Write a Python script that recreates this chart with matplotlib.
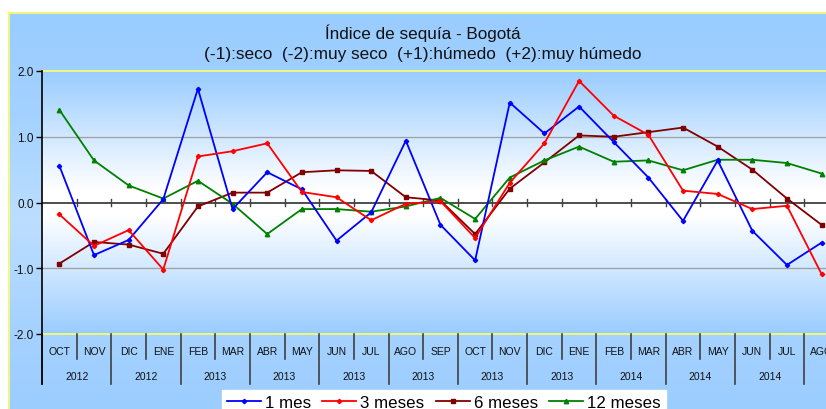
import numpy as np
import matplotlib
matplotlib.use("Agg")
import matplotlib.pyplot as plt
from matplotlib.colors import LinearSegmentedColormap
import matplotlib.transforms as mtransforms

plt.rcParams['font.family'] = ['Liberation Sans', 'DejaVu Sans']

months = ["OCT", "NOV", "DIC", "ENE", "FEB", "MAR", "ABR", "MAY", "JUN", "JUL", "AGO", "SEP",
          "OCT", "NOV", "DIC", "ENE", "FEB", "MAR", "ABR", "MAY", "JUN", "JUL", "AGO"]
years = ["2012", "2012", "2013", "2013", "2013", "2013", "2013", "2013", "2014", "2014", "2014", "2014"]

mes1 = [0.56, -0.80, -0.57, 0.05, 1.73, -0.10, 0.46, 0.20, -0.58, -0.15, 0.94, -0.34,
        -0.88, 1.52, 1.05, 1.46, 0.92, 0.38, -0.28, 0.64, -0.43, -0.95, -0.61]
mes3 = [-0.18, -0.66, -0.42, -1.02, 0.70, 0.78, 0.90, 0.16, 0.08, -0.27, -0.02, 0.02,
        -0.54, 0.30, 0.90, 1.85, 1.32, 1.03, 0.18, 0.13, -0.10, -0.05, -1.09]
mes6 = [-0.93, -0.60, -0.64, -0.78, -0.06, 0.15, 0.15, 0.46, 0.49, 0.48, 0.08, 0.03,
        -0.48, 0.21, 0.61, 1.02, 1.00, 1.07, 1.14, 0.85, 0.50, 0.06, -0.34]
mes12 = [1.41, 0.64, 0.26, 0.06, 0.33, -0.02, -0.48, -0.10, -0.10, -0.14, -0.06, 0.07,
         -0.25, 0.38, 0.64, 0.85, 0.62, 0.64, 0.49, 0.65, 0.65, 0.60, 0.44]

W, H = 826, 410
fig = plt.figure(figsize=(W / 100, H / 100), dpi=100)

# background (chart area)
bg = fig.add_axes([0, 0, 1, 1], zorder=0)
bg.set_xlim(0, W)
bg.set_ylim(H, 0)
bg.axis('off')
cmap_out = LinearSegmentedColormap.from_list('o', ['#99ccff', '#a4d2ff', '#bcdeff', '#a6d2ff', '#99ccff'])
grad = np.linspace(0, 1, 256).reshape(-1, 1)
bg.imshow(grad, cmap=cmap_out, aspect='auto', extent=(8, 900, 430, 13), zorder=0)
bg.plot([8, 900], [13.5, 13.5], color='#ffff66', lw=1.2, zorder=1)
bg.plot([8.5, 8.5], [13, 430], color='#ffff66', lw=1.2, zorder=1)

# titles
fig.text(423 / W, 1 - 33 / H, "Índice de sequía - Bogotá", ha='center', va='center', fontsize=12.3, color='#111111')
fig.text(423 / W, 1 - 54 / H, "(-1):seco  (-2):muy seco  (+1):húmedo  (+2):muy húmedo",
         ha='center', va='center', fontsize=12.4, color='#111111')

n = len(months)
left, right = 42, 42 + 34.65 * n
top, bottom = 72, 335
ax = fig.add_axes([left / W, 1 - bottom / H, (right - left) / W, (bottom - top) / H], zorder=2)
ax.set_xlim(-0.5, n - 0.5)
ax.set_ylim(-2, 2)
ax.patch.set_alpha(0)
cmap_in = LinearSegmentedColormap.from_list('i', [(0, '#99ccff'), (0.45, '#ffffff'), (0.55, '#ffffff'), (1, '#99ccff')])
ax.imshow(np.linspace(0, 1, 256).reshape(-1, 1), cmap=cmap_in, aspect='auto',
          extent=(-0.5, n - 0.5, -2, 2), zorder=0)

for s in ['top', 'right', 'bottom']:
    ax.spines[s].set_visible(False)
ax.spines['left'].set_color('#000000')
ax.spines['left'].set_linewidth(1.2)
ax.plot([-0.5, n - 0.5], [2, 2], color='#ffff66', lw=1.2, zorder=1, clip_on=False)
ax.plot([-0.5, n - 0.5], [-2, -2], color='#ffff66', lw=1.2, zorder=1, clip_on=False)

for v in [1, -1]:
    ax.axhline(v, color='#a0a0a0', lw=0.9, zorder=1)
ax.axhline(0, color='#404040', lw=1.3, zorder=2)
for i in range(n):
    ax.plot([i + 0.5, i + 0.5], [-0.05, 0.05], color='#404040', lw=1.0, zorder=2)

ax.set_yticks([-2, -1, 0, 1, 2])
ax.set_yticklabels(["-2.0", "-1.0", "0.0", "1.0", "2.0"], fontsize=8.5, color='#111111')
ax.tick_params(axis='y', length=4, width=1, color='#000000', pad=2)
ax.set_xticks([])

x = np.arange(n)
ax.plot(x, mes1, color='#0000ff', lw=1.3, marker='D', ms=2.2, zorder=5, label='1 mes')
ax.plot(x, mes3, color='#ff0000', lw=1.3, marker='D', ms=2.2, zorder=5, label='3 meses')
ax.plot(x, mes6, color='#800000', lw=1.3, marker='s', ms=2.2, zorder=4, label='6 meses')
ax.plot(x, mes12, color='#008000', lw=1.3, marker='^', ms=3.2, zorder=4, label='12 meses')

# category table
trans = mtransforms.blended_transform_factory(ax.transData, ax.transAxes)
ph = bottom - top
for i, m in enumerate(months):
    ax.text(i, -17 / ph, m, transform=trans, ha='center', va='center', fontsize=7.5, color='#111111', clip_on=False)
for i in range(n + 1):
    xb = i - 0.5
    yl = -50 / ph if i % 2 == 0 else -25 / ph
    ax.plot([xb, xb], [0, yl], transform=trans, color='#404040', lw=1.2, clip_on=False, zorder=3)
for k, yv in enumerate(years):
    ax.text(2 * k + 0.5, -42 / ph, yv, transform=trans, ha='center', va='center', fontsize=7.5, color='#111111', clip_on=False)
ax.plot([-0.5, -0.5], [0, -50 / ph], transform=trans, color='#000000', lw=1.2, clip_on=False, zorder=3)

leg = fig.legend(loc='upper left', bbox_to_anchor=(222 / W, 1 - 391 / H), ncol=4, frameon=True,
                 fontsize=12.2, handlelength=2.0, handletextpad=0.25, columnspacing=0.65,
                 borderpad=0.3, borderaxespad=0, fancybox=False)
leg.get_frame().set_facecolor('white')
leg.get_frame().set_edgecolor('white')
leg.get_frame().set_alpha(1)

fig.savefig('out.png', dpi=100)
